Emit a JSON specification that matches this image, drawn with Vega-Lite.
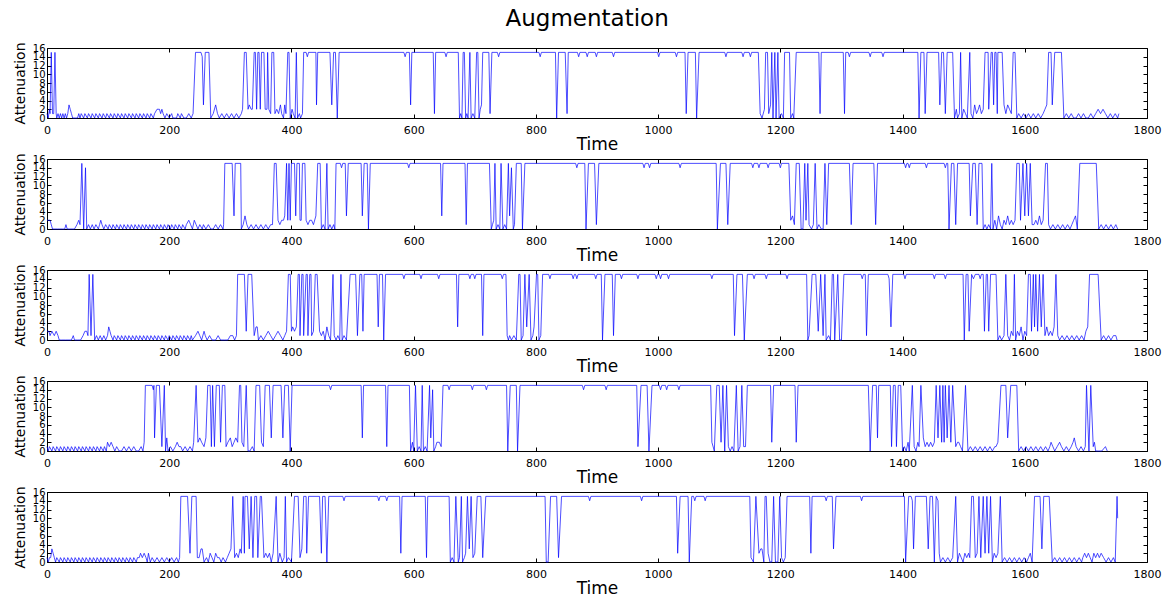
{
"$schema":"https://vega.github.io/schema/vega-lite/v6.json",
"padding":{"left":12,"top":8,"right":5,"bottom":2},
"title":{"text":"Augmentation","fontSize":23,"font":"DejaVu Sans","fontWeight":"normal","color":"#000","anchor":"middle","offset":10},
"bounds":"flush",
"spacing":41,
"config":{
"font":"DejaVu Sans",
"view":{"stroke":"#000","strokeWidth":1},
"axis":{"grid":false,"domain":false,"labelFont":"DejaVu Sans","labelFontSize":11,"labelColor":"#000","tickColor":"#000","tickSize":-4,"titleFont":"DejaVu Sans","titleFontWeight":"normal","titleColor":"#000","labelOverlap":false,"labelFlush":false,"labelBound":false,"format":"d"},
"axisX":{"labelPadding":10,"titleFontSize":17,"titlePadding":1},
"axisY":{"labelPadding":6,"labelFontSize":10,"titleFontSize":14,"titlePadding":5}
},
"datasets":{
"d1":[{"t":0,"v":1},{"t":2,"v":0},{"t":4,"v":2},{"t":5,"v":1},{"t":7,"v":15},{"t":9,"v":1},{"t":11,"v":1},{"t":13,"v":15},{"t":15,"v":1},{"t":16,"v":0},{"t":18,"v":1},{"t":20,"v":0},{"t":22,"v":1},{"t":24,"v":0},{"t":26,"v":1},{"t":28,"v":0},{"t":30,"v":1},{"t":32,"v":0},{"t":34,"v":1},{"t":36,"v":3},{"t":38,"v":2},{"t":40,"v":1},{"t":42,"v":0},{"t":46,"v":0},{"t":50,"v":0},{"t":52,"v":1},{"t":54,"v":0},{"t":56,"v":1},{"t":60,"v":0},{"t":62,"v":1},{"t":66,"v":0},{"t":68,"v":1},{"t":72,"v":0},{"t":74,"v":1},{"t":78,"v":0},{"t":80,"v":1},{"t":84,"v":0},{"t":86,"v":1},{"t":90,"v":0},{"t":92,"v":1},{"t":96,"v":0},{"t":98,"v":1},{"t":102,"v":0},{"t":104,"v":1},{"t":108,"v":0},{"t":110,"v":1},{"t":114,"v":0},{"t":116,"v":1},{"t":120,"v":0},{"t":122,"v":1},{"t":126,"v":0},{"t":128,"v":1},{"t":132,"v":0},{"t":134,"v":1},{"t":138,"v":0},{"t":140,"v":1},{"t":144,"v":0},{"t":146,"v":1},{"t":150,"v":0},{"t":152,"v":1},{"t":156,"v":0},{"t":158,"v":1},{"t":162,"v":0},{"t":164,"v":1},{"t":168,"v":0},{"t":170,"v":1},{"t":174,"v":0},{"t":176,"v":1},{"t":180,"v":2},{"t":184,"v":2},{"t":186,"v":1},{"t":188,"v":2},{"t":190,"v":1},{"t":193,"v":0},{"t":196,"v":1},{"t":200,"v":0},{"t":204,"v":1},{"t":206,"v":0},{"t":212,"v":0},{"t":214,"v":1},{"t":218,"v":0},{"t":220,"v":1},{"t":224,"v":0},{"t":228,"v":0},{"t":232,"v":1},{"t":236,"v":0},{"t":239,"v":1},{"t":243,"v":15},{"t":252,"v":15},{"t":254,"v":14},{"t":256,"v":3},{"t":259,"v":15},{"t":265,"v":15},{"t":268,"v":0},{"t":272,"v":1},{"t":276,"v":3},{"t":279,"v":1},{"t":282,"v":0},{"t":286,"v":1},{"t":290,"v":0},{"t":294,"v":1},{"t":298,"v":0},{"t":302,"v":1},{"t":306,"v":0},{"t":310,"v":1},{"t":314,"v":0},{"t":318,"v":1},{"t":320,"v":2},{"t":323,"v":15},{"t":326,"v":15},{"t":329,"v":2},{"t":331,"v":3},{"t":334,"v":2},{"t":336,"v":2},{"t":339,"v":15},{"t":341,"v":15},{"t":343,"v":2},{"t":345,"v":15},{"t":347,"v":15},{"t":349,"v":2},{"t":351,"v":15},{"t":355,"v":15},{"t":357,"v":2},{"t":360,"v":2},{"t":361,"v":15},{"t":363,"v":2},{"t":366,"v":1},{"t":368,"v":15},{"t":371,"v":15},{"t":373,"v":1},{"t":376,"v":2},{"t":379,"v":1},{"t":382,"v":3},{"t":384,"v":1},{"t":387,"v":0},{"t":389,"v":3},{"t":391,"v":1},{"t":394,"v":15},{"t":396,"v":15},{"t":398,"v":0},{"t":401,"v":2},{"t":403,"v":1},{"t":406,"v":0},{"t":408,"v":15},{"t":410,"v":0},{"t":413,"v":1},{"t":415,"v":0},{"t":418,"v":1},{"t":420,"v":15},{"t":424,"v":15},{"t":426,"v":14},{"t":428,"v":15},{"t":440,"v":15},{"t":441,"v":3},{"t":443,"v":15},{"t":463,"v":15},{"t":466,"v":3},{"t":469,"v":15},{"t":472,"v":15},{"t":475,"v":0},{"t":478,"v":15},{"t":584,"v":15},{"t":586,"v":14},{"t":588,"v":15},{"t":593,"v":15},{"t":595,"v":3},{"t":597,"v":15},{"t":632,"v":15},{"t":634,"v":1},{"t":636,"v":15},{"t":651,"v":15},{"t":653,"v":14},{"t":655,"v":15},{"t":673,"v":15},{"t":675,"v":0},{"t":677,"v":1},{"t":679,"v":0},{"t":681,"v":15},{"t":683,"v":15},{"t":685,"v":0},{"t":687,"v":1},{"t":689,"v":0},{"t":692,"v":15},{"t":694,"v":0},{"t":697,"v":1},{"t":700,"v":0},{"t":703,"v":15},{"t":705,"v":15},{"t":707,"v":0},{"t":709,"v":2},{"t":711,"v":3},{"t":713,"v":15},{"t":723,"v":15},{"t":725,"v":1},{"t":728,"v":15},{"t":737,"v":15},{"t":739,"v":14},{"t":741,"v":15},{"t":805,"v":15},{"t":807,"v":14},{"t":809,"v":15},{"t":832,"v":15},{"t":834,"v":0},{"t":837,"v":15},{"t":848,"v":15},{"t":851,"v":1},{"t":853,"v":15},{"t":868,"v":15},{"t":870,"v":14},{"t":872,"v":15},{"t":882,"v":15},{"t":884,"v":14},{"t":886,"v":15},{"t":897,"v":15},{"t":899,"v":14},{"t":901,"v":15},{"t":925,"v":15},{"t":927,"v":14},{"t":929,"v":15},{"t":999,"v":15},{"t":1001,"v":14},{"t":1003,"v":15},{"t":1028,"v":15},{"t":1030,"v":14},{"t":1032,"v":15},{"t":1044,"v":15},{"t":1046,"v":1},{"t":1049,"v":15},{"t":1061,"v":15},{"t":1063,"v":0},{"t":1067,"v":15},{"t":1109,"v":15},{"t":1111,"v":14},{"t":1113,"v":15},{"t":1137,"v":15},{"t":1139,"v":14},{"t":1141,"v":15},{"t":1149,"v":15},{"t":1151,"v":14},{"t":1153,"v":15},{"t":1164,"v":15},{"t":1167,"v":1},{"t":1170,"v":0},{"t":1174,"v":2},{"t":1176,"v":15},{"t":1179,"v":15},{"t":1181,"v":1},{"t":1184,"v":3},{"t":1186,"v":15},{"t":1188,"v":0},{"t":1191,"v":15},{"t":1193,"v":0},{"t":1196,"v":15},{"t":1198,"v":0},{"t":1202,"v":1},{"t":1205,"v":0},{"t":1207,"v":15},{"t":1215,"v":15},{"t":1217,"v":0},{"t":1220,"v":1},{"t":1222,"v":0},{"t":1226,"v":15},{"t":1263,"v":15},{"t":1265,"v":1},{"t":1267,"v":15},{"t":1303,"v":15},{"t":1305,"v":1},{"t":1307,"v":15},{"t":1311,"v":15},{"t":1313,"v":14},{"t":1315,"v":15},{"t":1345,"v":15},{"t":1347,"v":14},{"t":1349,"v":15},{"t":1366,"v":15},{"t":1368,"v":14},{"t":1370,"v":15},{"t":1425,"v":15},{"t":1427,"v":0},{"t":1430,"v":15},{"t":1435,"v":15},{"t":1437,"v":1},{"t":1440,"v":15},{"t":1459,"v":15},{"t":1461,"v":3},{"t":1464,"v":15},{"t":1467,"v":15},{"t":1470,"v":1},{"t":1473,"v":15},{"t":1482,"v":15},{"t":1485,"v":0},{"t":1488,"v":2},{"t":1490,"v":0},{"t":1493,"v":1},{"t":1495,"v":15},{"t":1497,"v":0},{"t":1500,"v":2},{"t":1503,"v":1},{"t":1506,"v":0},{"t":1510,"v":15},{"t":1512,"v":1},{"t":1515,"v":0},{"t":1518,"v":3},{"t":1521,"v":1},{"t":1524,"v":2},{"t":1526,"v":3},{"t":1529,"v":1},{"t":1532,"v":2},{"t":1535,"v":15},{"t":1540,"v":15},{"t":1541,"v":2},{"t":1545,"v":15},{"t":1547,"v":15},{"t":1549,"v":3},{"t":1551,"v":15},{"t":1553,"v":15},{"t":1555,"v":1},{"t":1556,"v":15},{"t":1563,"v":15},{"t":1566,"v":3},{"t":1569,"v":1},{"t":1572,"v":3},{"t":1575,"v":2},{"t":1578,"v":1},{"t":1581,"v":15},{"t":1584,"v":15},{"t":1587,"v":0},{"t":1590,"v":1},{"t":1594,"v":0},{"t":1598,"v":1},{"t":1602,"v":0},{"t":1606,"v":1},{"t":1610,"v":0},{"t":1614,"v":1},{"t":1618,"v":0},{"t":1622,"v":1},{"t":1626,"v":0},{"t":1630,"v":1},{"t":1633,"v":2},{"t":1636,"v":3},{"t":1639,"v":15},{"t":1643,"v":15},{"t":1645,"v":3},{"t":1649,"v":15},{"t":1660,"v":15},{"t":1664,"v":0},{"t":1668,"v":1},{"t":1672,"v":0},{"t":1676,"v":1},{"t":1680,"v":0},{"t":1684,"v":0},{"t":1688,"v":1},{"t":1692,"v":0},{"t":1696,"v":1},{"t":1700,"v":0},{"t":1704,"v":0},{"t":1708,"v":1},{"t":1712,"v":0},{"t":1716,"v":1},{"t":1720,"v":2},{"t":1724,"v":1},{"t":1728,"v":2},{"t":1732,"v":1},{"t":1736,"v":0},{"t":1740,"v":1},{"t":1744,"v":0},{"t":1748,"v":1},{"t":1752,"v":0},{"t":1754,"v":1}],
"d2":[{"t":0,"v":2},{"t":5,"v":2},{"t":7,"v":1},{"t":9,"v":0},{"t":13,"v":0},{"t":17,"v":0},{"t":21,"v":0},{"t":25,"v":0},{"t":29,"v":0},{"t":31,"v":1},{"t":33,"v":0},{"t":37,"v":0},{"t":41,"v":0},{"t":45,"v":0},{"t":49,"v":1},{"t":52,"v":2},{"t":54,"v":1},{"t":57,"v":15},{"t":60,"v":0},{"t":63,"v":14},{"t":65,"v":0},{"t":68,"v":1},{"t":71,"v":0},{"t":74,"v":1},{"t":77,"v":0},{"t":80,"v":1},{"t":84,"v":0},{"t":86,"v":1},{"t":88,"v":2},{"t":90,"v":1},{"t":93,"v":0},{"t":96,"v":1},{"t":100,"v":0},{"t":102,"v":1},{"t":106,"v":0},{"t":108,"v":1},{"t":112,"v":0},{"t":114,"v":1},{"t":118,"v":0},{"t":120,"v":1},{"t":124,"v":0},{"t":126,"v":1},{"t":130,"v":0},{"t":132,"v":1},{"t":136,"v":0},{"t":138,"v":1},{"t":142,"v":0},{"t":144,"v":1},{"t":148,"v":0},{"t":150,"v":1},{"t":154,"v":0},{"t":156,"v":1},{"t":160,"v":0},{"t":162,"v":1},{"t":166,"v":0},{"t":168,"v":1},{"t":172,"v":0},{"t":174,"v":1},{"t":178,"v":0},{"t":180,"v":1},{"t":184,"v":0},{"t":186,"v":1},{"t":190,"v":0},{"t":192,"v":1},{"t":196,"v":0},{"t":198,"v":1},{"t":202,"v":0},{"t":204,"v":1},{"t":208,"v":0},{"t":210,"v":1},{"t":214,"v":0},{"t":216,"v":1},{"t":220,"v":0},{"t":222,"v":1},{"t":226,"v":0},{"t":228,"v":1},{"t":232,"v":2},{"t":235,"v":1},{"t":238,"v":0},{"t":241,"v":2},{"t":244,"v":1},{"t":247,"v":0},{"t":250,"v":1},{"t":254,"v":0},{"t":256,"v":1},{"t":260,"v":0},{"t":264,"v":1},{"t":268,"v":0},{"t":272,"v":0},{"t":276,"v":1},{"t":280,"v":0},{"t":284,"v":1},{"t":288,"v":0},{"t":289,"v":1},{"t":291,"v":15},{"t":303,"v":15},{"t":306,"v":3},{"t":308,"v":15},{"t":317,"v":15},{"t":318,"v":0},{"t":321,"v":1},{"t":324,"v":3},{"t":327,"v":1},{"t":330,"v":0},{"t":334,"v":1},{"t":338,"v":0},{"t":342,"v":1},{"t":346,"v":0},{"t":350,"v":1},{"t":354,"v":0},{"t":358,"v":1},{"t":362,"v":0},{"t":366,"v":1},{"t":369,"v":1},{"t":372,"v":15},{"t":375,"v":15},{"t":378,"v":2},{"t":381,"v":1},{"t":384,"v":2},{"t":387,"v":2},{"t":389,"v":3},{"t":392,"v":15},{"t":394,"v":2},{"t":396,"v":15},{"t":398,"v":2},{"t":400,"v":15},{"t":405,"v":15},{"t":407,"v":3},{"t":409,"v":15},{"t":413,"v":15},{"t":414,"v":2},{"t":416,"v":2},{"t":418,"v":15},{"t":422,"v":15},{"t":424,"v":2},{"t":427,"v":1},{"t":430,"v":2},{"t":433,"v":2},{"t":436,"v":1},{"t":440,"v":3},{"t":443,"v":15},{"t":447,"v":15},{"t":449,"v":0},{"t":452,"v":1},{"t":455,"v":0},{"t":458,"v":15},{"t":460,"v":0},{"t":463,"v":1},{"t":466,"v":0},{"t":469,"v":1},{"t":471,"v":0},{"t":473,"v":15},{"t":480,"v":15},{"t":482,"v":14},{"t":484,"v":15},{"t":488,"v":15},{"t":490,"v":3},{"t":493,"v":15},{"t":514,"v":15},{"t":516,"v":3},{"t":519,"v":15},{"t":524,"v":15},{"t":526,"v":0},{"t":529,"v":15},{"t":590,"v":15},{"t":592,"v":14},{"t":594,"v":15},{"t":644,"v":15},{"t":646,"v":3},{"t":648,"v":15},{"t":684,"v":15},{"t":686,"v":1},{"t":688,"v":15},{"t":724,"v":15},{"t":727,"v":0},{"t":729,"v":1},{"t":731,"v":2},{"t":733,"v":15},{"t":735,"v":0},{"t":738,"v":1},{"t":741,"v":0},{"t":743,"v":15},{"t":746,"v":0},{"t":749,"v":1},{"t":752,"v":0},{"t":755,"v":15},{"t":757,"v":3},{"t":760,"v":14},{"t":763,"v":0},{"t":765,"v":1},{"t":768,"v":15},{"t":776,"v":15},{"t":778,"v":0},{"t":782,"v":15},{"t":865,"v":15},{"t":867,"v":14},{"t":869,"v":15},{"t":880,"v":15},{"t":882,"v":0},{"t":886,"v":15},{"t":896,"v":15},{"t":899,"v":1},{"t":903,"v":15},{"t":975,"v":15},{"t":977,"v":14},{"t":979,"v":15},{"t":984,"v":15},{"t":986,"v":14},{"t":988,"v":15},{"t":1034,"v":15},{"t":1036,"v":14},{"t":1038,"v":15},{"t":1095,"v":15},{"t":1097,"v":0},{"t":1102,"v":15},{"t":1111,"v":15},{"t":1114,"v":1},{"t":1118,"v":15},{"t":1153,"v":15},{"t":1155,"v":14},{"t":1157,"v":15},{"t":1163,"v":15},{"t":1165,"v":14},{"t":1167,"v":15},{"t":1178,"v":15},{"t":1180,"v":14},{"t":1182,"v":15},{"t":1198,"v":15},{"t":1200,"v":14},{"t":1202,"v":15},{"t":1214,"v":15},{"t":1217,"v":2},{"t":1220,"v":3},{"t":1223,"v":1},{"t":1226,"v":15},{"t":1231,"v":15},{"t":1234,"v":0},{"t":1237,"v":0},{"t":1240,"v":15},{"t":1242,"v":2},{"t":1245,"v":15},{"t":1247,"v":1},{"t":1251,"v":0},{"t":1254,"v":1},{"t":1257,"v":15},{"t":1260,"v":0},{"t":1263,"v":1},{"t":1267,"v":0},{"t":1270,"v":0},{"t":1273,"v":15},{"t":1276,"v":1},{"t":1279,"v":15},{"t":1313,"v":15},{"t":1316,"v":1},{"t":1319,"v":15},{"t":1353,"v":15},{"t":1356,"v":1},{"t":1359,"v":15},{"t":1403,"v":15},{"t":1405,"v":14},{"t":1407,"v":15},{"t":1409,"v":15},{"t":1411,"v":14},{"t":1413,"v":15},{"t":1437,"v":15},{"t":1439,"v":14},{"t":1441,"v":15},{"t":1468,"v":15},{"t":1470,"v":14},{"t":1472,"v":15},{"t":1474,"v":15},{"t":1476,"v":0},{"t":1480,"v":15},{"t":1484,"v":15},{"t":1487,"v":1},{"t":1490,"v":15},{"t":1509,"v":15},{"t":1511,"v":3},{"t":1515,"v":15},{"t":1519,"v":15},{"t":1522,"v":1},{"t":1525,"v":15},{"t":1530,"v":15},{"t":1532,"v":0},{"t":1535,"v":1},{"t":1538,"v":0},{"t":1541,"v":1},{"t":1544,"v":0},{"t":1546,"v":15},{"t":1548,"v":0},{"t":1551,"v":2},{"t":1554,"v":0},{"t":1557,"v":3},{"t":1560,"v":1},{"t":1563,"v":0},{"t":1566,"v":2},{"t":1569,"v":1},{"t":1572,"v":3},{"t":1575,"v":1},{"t":1578,"v":2},{"t":1581,"v":1},{"t":1584,"v":2},{"t":1587,"v":15},{"t":1591,"v":15},{"t":1593,"v":2},{"t":1597,"v":15},{"t":1600,"v":3},{"t":1603,"v":15},{"t":1606,"v":3},{"t":1609,"v":15},{"t":1612,"v":1},{"t":1615,"v":1},{"t":1618,"v":2},{"t":1621,"v":1},{"t":1624,"v":3},{"t":1627,"v":1},{"t":1630,"v":2},{"t":1634,"v":15},{"t":1637,"v":15},{"t":1639,"v":1},{"t":1642,"v":0},{"t":1646,"v":1},{"t":1650,"v":0},{"t":1654,"v":1},{"t":1658,"v":0},{"t":1662,"v":1},{"t":1666,"v":0},{"t":1670,"v":1},{"t":1674,"v":0},{"t":1677,"v":1},{"t":1680,"v":2},{"t":1683,"v":3},{"t":1686,"v":0},{"t":1690,"v":15},{"t":1717,"v":15},{"t":1721,"v":0},{"t":1725,"v":1},{"t":1729,"v":0},{"t":1733,"v":1},{"t":1737,"v":0},{"t":1741,"v":1},{"t":1745,"v":0},{"t":1749,"v":1},{"t":1752,"v":0}],
"d3":[{"t":0,"v":2},{"t":3,"v":2},{"t":5,"v":1},{"t":8,"v":2},{"t":12,"v":1},{"t":15,"v":2},{"t":18,"v":1},{"t":20,"v":0},{"t":24,"v":0},{"t":30,"v":0},{"t":36,"v":0},{"t":40,"v":0},{"t":43,"v":1},{"t":45,"v":0},{"t":50,"v":0},{"t":55,"v":0},{"t":59,"v":1},{"t":62,"v":2},{"t":65,"v":2},{"t":67,"v":1},{"t":69,"v":15},{"t":72,"v":1},{"t":75,"v":15},{"t":78,"v":0},{"t":81,"v":1},{"t":84,"v":0},{"t":87,"v":1},{"t":90,"v":0},{"t":93,"v":1},{"t":96,"v":0},{"t":99,"v":1},{"t":101,"v":3},{"t":103,"v":2},{"t":105,"v":1},{"t":108,"v":0},{"t":110,"v":1},{"t":114,"v":0},{"t":116,"v":1},{"t":120,"v":0},{"t":122,"v":1},{"t":126,"v":0},{"t":128,"v":1},{"t":132,"v":0},{"t":134,"v":1},{"t":138,"v":0},{"t":140,"v":1},{"t":144,"v":0},{"t":146,"v":1},{"t":150,"v":0},{"t":152,"v":1},{"t":156,"v":0},{"t":158,"v":1},{"t":162,"v":0},{"t":164,"v":1},{"t":168,"v":0},{"t":170,"v":1},{"t":174,"v":0},{"t":176,"v":1},{"t":180,"v":0},{"t":182,"v":1},{"t":186,"v":0},{"t":188,"v":1},{"t":192,"v":0},{"t":194,"v":1},{"t":198,"v":0},{"t":200,"v":1},{"t":204,"v":0},{"t":206,"v":1},{"t":210,"v":0},{"t":212,"v":1},{"t":216,"v":0},{"t":218,"v":1},{"t":222,"v":0},{"t":224,"v":1},{"t":228,"v":0},{"t":230,"v":1},{"t":234,"v":0},{"t":236,"v":1},{"t":238,"v":0},{"t":243,"v":1},{"t":247,"v":2},{"t":250,"v":1},{"t":253,"v":0},{"t":257,"v":2},{"t":259,"v":1},{"t":262,"v":0},{"t":266,"v":1},{"t":270,"v":0},{"t":276,"v":0},{"t":280,"v":1},{"t":284,"v":0},{"t":290,"v":0},{"t":296,"v":0},{"t":300,"v":1},{"t":304,"v":1},{"t":307,"v":0},{"t":310,"v":1},{"t":312,"v":15},{"t":323,"v":15},{"t":326,"v":2},{"t":329,"v":15},{"t":335,"v":15},{"t":339,"v":1},{"t":342,"v":3},{"t":344,"v":3},{"t":346,"v":0},{"t":350,"v":1},{"t":354,"v":0},{"t":358,"v":1},{"t":362,"v":2},{"t":366,"v":1},{"t":370,"v":0},{"t":374,"v":1},{"t":378,"v":2},{"t":382,"v":1},{"t":386,"v":0},{"t":389,"v":1},{"t":392,"v":2},{"t":395,"v":15},{"t":398,"v":15},{"t":400,"v":2},{"t":402,"v":3},{"t":405,"v":2},{"t":408,"v":3},{"t":411,"v":15},{"t":413,"v":15},{"t":414,"v":1},{"t":417,"v":15},{"t":419,"v":15},{"t":420,"v":1},{"t":424,"v":15},{"t":426,"v":15},{"t":427,"v":1},{"t":430,"v":15},{"t":432,"v":15},{"t":433,"v":1},{"t":436,"v":2},{"t":439,"v":15},{"t":442,"v":15},{"t":446,"v":2},{"t":449,"v":1},{"t":452,"v":2},{"t":455,"v":0},{"t":458,"v":3},{"t":461,"v":1},{"t":464,"v":0},{"t":468,"v":15},{"t":470,"v":1},{"t":473,"v":0},{"t":476,"v":1},{"t":479,"v":0},{"t":481,"v":15},{"t":483,"v":0},{"t":486,"v":1},{"t":490,"v":0},{"t":496,"v":15},{"t":505,"v":15},{"t":508,"v":1},{"t":512,"v":15},{"t":515,"v":15},{"t":517,"v":2},{"t":519,"v":15},{"t":540,"v":15},{"t":542,"v":3},{"t":544,"v":15},{"t":549,"v":15},{"t":551,"v":0},{"t":554,"v":15},{"t":582,"v":15},{"t":584,"v":14},{"t":586,"v":15},{"t":610,"v":15},{"t":612,"v":14},{"t":614,"v":15},{"t":639,"v":15},{"t":641,"v":14},{"t":643,"v":15},{"t":670,"v":15},{"t":672,"v":3},{"t":674,"v":15},{"t":690,"v":15},{"t":692,"v":14},{"t":694,"v":15},{"t":698,"v":15},{"t":700,"v":14},{"t":702,"v":15},{"t":711,"v":15},{"t":713,"v":1},{"t":715,"v":15},{"t":743,"v":15},{"t":745,"v":14},{"t":747,"v":15},{"t":751,"v":15},{"t":753,"v":1},{"t":755,"v":0},{"t":757,"v":1},{"t":760,"v":0},{"t":764,"v":1},{"t":768,"v":0},{"t":772,"v":15},{"t":774,"v":15},{"t":776,"v":0},{"t":779,"v":1},{"t":782,"v":15},{"t":785,"v":3},{"t":789,"v":15},{"t":792,"v":0},{"t":795,"v":1},{"t":797,"v":3},{"t":801,"v":15},{"t":803,"v":15},{"t":805,"v":0},{"t":808,"v":1},{"t":811,"v":15},{"t":821,"v":15},{"t":823,"v":14},{"t":825,"v":15},{"t":859,"v":15},{"t":861,"v":14},{"t":863,"v":15},{"t":865,"v":15},{"t":867,"v":14},{"t":869,"v":15},{"t":896,"v":15},{"t":898,"v":14},{"t":900,"v":15},{"t":907,"v":15},{"t":909,"v":0},{"t":913,"v":15},{"t":925,"v":15},{"t":927,"v":1},{"t":930,"v":15},{"t":938,"v":15},{"t":940,"v":14},{"t":942,"v":15},{"t":965,"v":15},{"t":967,"v":14},{"t":969,"v":15},{"t":995,"v":15},{"t":997,"v":14},{"t":999,"v":15},{"t":1002,"v":15},{"t":1004,"v":14},{"t":1006,"v":15},{"t":1015,"v":15},{"t":1017,"v":14},{"t":1019,"v":15},{"t":1086,"v":15},{"t":1088,"v":14},{"t":1090,"v":15},{"t":1123,"v":15},{"t":1125,"v":1},{"t":1129,"v":15},{"t":1138,"v":15},{"t":1141,"v":0},{"t":1146,"v":15},{"t":1155,"v":15},{"t":1157,"v":14},{"t":1159,"v":15},{"t":1175,"v":15},{"t":1177,"v":14},{"t":1179,"v":15},{"t":1209,"v":15},{"t":1211,"v":14},{"t":1213,"v":15},{"t":1243,"v":15},{"t":1245,"v":0},{"t":1247,"v":1},{"t":1252,"v":15},{"t":1258,"v":15},{"t":1262,"v":2},{"t":1266,"v":15},{"t":1270,"v":1},{"t":1273,"v":15},{"t":1275,"v":0},{"t":1279,"v":1},{"t":1282,"v":0},{"t":1285,"v":15},{"t":1287,"v":15},{"t":1289,"v":0},{"t":1294,"v":15},{"t":1297,"v":0},{"t":1300,"v":0},{"t":1304,"v":15},{"t":1332,"v":15},{"t":1334,"v":14},{"t":1336,"v":15},{"t":1339,"v":15},{"t":1341,"v":1},{"t":1344,"v":15},{"t":1376,"v":15},{"t":1378,"v":14},{"t":1381,"v":3},{"t":1384,"v":15},{"t":1402,"v":15},{"t":1404,"v":14},{"t":1406,"v":15},{"t":1450,"v":15},{"t":1452,"v":14},{"t":1454,"v":15},{"t":1468,"v":15},{"t":1470,"v":14},{"t":1472,"v":15},{"t":1499,"v":15},{"t":1501,"v":0},{"t":1504,"v":15},{"t":1507,"v":15},{"t":1509,"v":2},{"t":1513,"v":15},{"t":1516,"v":14},{"t":1519,"v":15},{"t":1525,"v":15},{"t":1527,"v":14},{"t":1529,"v":15},{"t":1532,"v":15},{"t":1534,"v":2},{"t":1537,"v":15},{"t":1539,"v":15},{"t":1541,"v":2},{"t":1544,"v":15},{"t":1553,"v":15},{"t":1556,"v":0},{"t":1559,"v":1},{"t":1562,"v":0},{"t":1566,"v":1},{"t":1569,"v":15},{"t":1572,"v":1},{"t":1575,"v":0},{"t":1578,"v":2},{"t":1581,"v":1},{"t":1583,"v":15},{"t":1585,"v":0},{"t":1588,"v":2},{"t":1591,"v":1},{"t":1594,"v":3},{"t":1597,"v":0},{"t":1600,"v":2},{"t":1603,"v":1},{"t":1606,"v":15},{"t":1609,"v":15},{"t":1611,"v":2},{"t":1614,"v":15},{"t":1616,"v":3},{"t":1618,"v":15},{"t":1621,"v":2},{"t":1624,"v":15},{"t":1627,"v":3},{"t":1630,"v":15},{"t":1633,"v":1},{"t":1636,"v":3},{"t":1639,"v":1},{"t":1642,"v":2},{"t":1645,"v":1},{"t":1648,"v":3},{"t":1651,"v":15},{"t":1654,"v":1},{"t":1657,"v":0},{"t":1661,"v":1},{"t":1665,"v":0},{"t":1669,"v":1},{"t":1673,"v":0},{"t":1677,"v":1},{"t":1681,"v":0},{"t":1685,"v":1},{"t":1689,"v":0},{"t":1693,"v":1},{"t":1697,"v":0},{"t":1700,"v":2},{"t":1703,"v":3},{"t":1706,"v":15},{"t":1720,"v":15},{"t":1725,"v":0},{"t":1729,"v":1},{"t":1733,"v":0},{"t":1737,"v":1},{"t":1741,"v":0},{"t":1745,"v":1},{"t":1749,"v":1},{"t":1751,"v":0}],
"d4":[{"t":0,"v":1},{"t":2,"v":0},{"t":4,"v":1},{"t":8,"v":0},{"t":10,"v":1},{"t":14,"v":0},{"t":16,"v":1},{"t":20,"v":0},{"t":22,"v":1},{"t":26,"v":0},{"t":28,"v":1},{"t":32,"v":0},{"t":34,"v":1},{"t":38,"v":0},{"t":40,"v":1},{"t":44,"v":0},{"t":46,"v":1},{"t":50,"v":0},{"t":52,"v":1},{"t":56,"v":0},{"t":58,"v":1},{"t":62,"v":0},{"t":64,"v":1},{"t":68,"v":0},{"t":70,"v":1},{"t":74,"v":0},{"t":76,"v":1},{"t":80,"v":0},{"t":82,"v":1},{"t":86,"v":0},{"t":88,"v":1},{"t":92,"v":0},{"t":94,"v":1},{"t":97,"v":0},{"t":99,"v":2},{"t":102,"v":1},{"t":105,"v":2},{"t":108,"v":1},{"t":111,"v":0},{"t":114,"v":1},{"t":118,"v":0},{"t":122,"v":0},{"t":126,"v":1},{"t":130,"v":0},{"t":134,"v":1},{"t":138,"v":0},{"t":142,"v":1},{"t":146,"v":0},{"t":150,"v":0},{"t":154,"v":1},{"t":157,"v":0},{"t":159,"v":2},{"t":161,"v":15},{"t":172,"v":15},{"t":174,"v":14},{"t":175,"v":15},{"t":176,"v":3},{"t":179,"v":15},{"t":184,"v":15},{"t":188,"v":1},{"t":192,"v":15},{"t":194,"v":0},{"t":196,"v":3},{"t":198,"v":0},{"t":202,"v":1},{"t":206,"v":0},{"t":210,"v":1},{"t":213,"v":2},{"t":216,"v":1},{"t":219,"v":1},{"t":222,"v":0},{"t":226,"v":1},{"t":230,"v":0},{"t":234,"v":1},{"t":238,"v":0},{"t":240,"v":2},{"t":244,"v":15},{"t":247,"v":2},{"t":250,"v":3},{"t":253,"v":2},{"t":257,"v":1},{"t":260,"v":3},{"t":263,"v":15},{"t":267,"v":15},{"t":269,"v":1},{"t":271,"v":15},{"t":274,"v":1},{"t":277,"v":15},{"t":282,"v":15},{"t":284,"v":2},{"t":287,"v":15},{"t":291,"v":15},{"t":293,"v":1},{"t":296,"v":2},{"t":300,"v":3},{"t":303,"v":1},{"t":306,"v":2},{"t":309,"v":3},{"t":312,"v":2},{"t":315,"v":15},{"t":317,"v":15},{"t":319,"v":2},{"t":322,"v":1},{"t":326,"v":15},{"t":329,"v":0},{"t":332,"v":0},{"t":336,"v":1},{"t":339,"v":0},{"t":342,"v":15},{"t":348,"v":15},{"t":351,"v":2},{"t":354,"v":1},{"t":357,"v":15},{"t":364,"v":15},{"t":367,"v":3},{"t":370,"v":15},{"t":383,"v":15},{"t":386,"v":3},{"t":389,"v":15},{"t":395,"v":15},{"t":398,"v":0},{"t":401,"v":15},{"t":462,"v":15},{"t":464,"v":14},{"t":466,"v":15},{"t":514,"v":15},{"t":516,"v":3},{"t":518,"v":15},{"t":554,"v":15},{"t":556,"v":1},{"t":558,"v":15},{"t":593,"v":15},{"t":595,"v":0},{"t":598,"v":2},{"t":600,"v":0},{"t":603,"v":15},{"t":606,"v":0},{"t":609,"v":1},{"t":612,"v":0},{"t":614,"v":15},{"t":616,"v":0},{"t":619,"v":1},{"t":622,"v":0},{"t":626,"v":15},{"t":628,"v":3},{"t":631,"v":14},{"t":633,"v":0},{"t":636,"v":1},{"t":638,"v":2},{"t":642,"v":2},{"t":645,"v":1},{"t":648,"v":15},{"t":656,"v":15},{"t":658,"v":14},{"t":660,"v":15},{"t":694,"v":15},{"t":696,"v":14},{"t":698,"v":15},{"t":717,"v":15},{"t":719,"v":14},{"t":721,"v":15},{"t":752,"v":15},{"t":754,"v":0},{"t":758,"v":15},{"t":768,"v":15},{"t":770,"v":0},{"t":774,"v":15},{"t":876,"v":15},{"t":878,"v":14},{"t":880,"v":15},{"t":913,"v":15},{"t":915,"v":14},{"t":917,"v":15},{"t":965,"v":15},{"t":967,"v":1},{"t":972,"v":15},{"t":982,"v":15},{"t":985,"v":0},{"t":990,"v":15},{"t":1002,"v":15},{"t":1004,"v":14},{"t":1006,"v":15},{"t":1012,"v":15},{"t":1014,"v":14},{"t":1016,"v":15},{"t":1032,"v":15},{"t":1034,"v":14},{"t":1036,"v":15},{"t":1086,"v":15},{"t":1088,"v":2},{"t":1092,"v":0},{"t":1096,"v":15},{"t":1100,"v":15},{"t":1103,"v":2},{"t":1106,"v":15},{"t":1109,"v":0},{"t":1112,"v":15},{"t":1115,"v":1},{"t":1118,"v":0},{"t":1121,"v":1},{"t":1124,"v":0},{"t":1128,"v":15},{"t":1131,"v":0},{"t":1134,"v":1},{"t":1137,"v":15},{"t":1140,"v":1},{"t":1143,"v":1},{"t":1146,"v":15},{"t":1184,"v":15},{"t":1186,"v":2},{"t":1189,"v":15},{"t":1224,"v":15},{"t":1226,"v":2},{"t":1229,"v":15},{"t":1344,"v":15},{"t":1347,"v":0},{"t":1351,"v":15},{"t":1357,"v":15},{"t":1359,"v":3},{"t":1361,"v":15},{"t":1380,"v":15},{"t":1382,"v":1},{"t":1385,"v":15},{"t":1388,"v":15},{"t":1390,"v":1},{"t":1393,"v":15},{"t":1397,"v":15},{"t":1400,"v":0},{"t":1403,"v":1},{"t":1406,"v":0},{"t":1409,"v":2},{"t":1411,"v":0},{"t":1416,"v":15},{"t":1419,"v":1},{"t":1422,"v":0},{"t":1425,"v":2},{"t":1427,"v":1},{"t":1430,"v":15},{"t":1434,"v":3},{"t":1437,"v":1},{"t":1440,"v":2},{"t":1443,"v":1},{"t":1446,"v":2},{"t":1449,"v":1},{"t":1452,"v":2},{"t":1455,"v":15},{"t":1458,"v":3},{"t":1461,"v":15},{"t":1464,"v":2},{"t":1466,"v":15},{"t":1468,"v":2},{"t":1470,"v":15},{"t":1473,"v":3},{"t":1476,"v":15},{"t":1479,"v":2},{"t":1482,"v":15},{"t":1487,"v":1},{"t":1490,"v":2},{"t":1492,"v":2},{"t":1495,"v":1},{"t":1498,"v":0},{"t":1503,"v":15},{"t":1507,"v":0},{"t":1511,"v":1},{"t":1515,"v":0},{"t":1519,"v":1},{"t":1523,"v":0},{"t":1527,"v":1},{"t":1531,"v":0},{"t":1535,"v":1},{"t":1539,"v":0},{"t":1543,"v":1},{"t":1547,"v":0},{"t":1551,"v":1},{"t":1553,"v":1},{"t":1556,"v":2},{"t":1561,"v":15},{"t":1569,"v":15},{"t":1572,"v":3},{"t":1577,"v":15},{"t":1587,"v":15},{"t":1590,"v":0},{"t":1594,"v":1},{"t":1598,"v":0},{"t":1602,"v":1},{"t":1606,"v":0},{"t":1610,"v":1},{"t":1614,"v":0},{"t":1618,"v":1},{"t":1622,"v":0},{"t":1626,"v":1},{"t":1630,"v":0},{"t":1634,"v":1},{"t":1638,"v":0},{"t":1641,"v":1},{"t":1643,"v":2},{"t":1646,"v":1},{"t":1649,"v":0},{"t":1653,"v":1},{"t":1657,"v":2},{"t":1660,"v":1},{"t":1664,"v":0},{"t":1668,"v":1},{"t":1672,"v":0},{"t":1676,"v":1},{"t":1679,"v":2},{"t":1681,"v":3},{"t":1684,"v":1},{"t":1688,"v":0},{"t":1692,"v":1},{"t":1696,"v":0},{"t":1699,"v":1},{"t":1701,"v":15},{"t":1705,"v":0},{"t":1708,"v":15},{"t":1712,"v":1},{"t":1714,"v":2},{"t":1716,"v":0},{"t":1720,"v":0},{"t":1726,"v":0},{"t":1732,"v":1},{"t":1735,"v":0}],
"d5":[{"t":0,"v":1},{"t":2,"v":0},{"t":4,"v":1},{"t":6,"v":1},{"t":8,"v":3},{"t":10,"v":2},{"t":12,"v":1},{"t":14,"v":0},{"t":16,"v":1},{"t":20,"v":0},{"t":22,"v":1},{"t":26,"v":0},{"t":28,"v":1},{"t":32,"v":0},{"t":34,"v":1},{"t":38,"v":0},{"t":40,"v":1},{"t":44,"v":0},{"t":46,"v":1},{"t":50,"v":0},{"t":52,"v":1},{"t":56,"v":0},{"t":58,"v":1},{"t":62,"v":0},{"t":64,"v":1},{"t":68,"v":0},{"t":70,"v":1},{"t":74,"v":0},{"t":76,"v":1},{"t":80,"v":0},{"t":82,"v":1},{"t":86,"v":0},{"t":88,"v":1},{"t":92,"v":0},{"t":94,"v":1},{"t":98,"v":0},{"t":100,"v":1},{"t":104,"v":0},{"t":106,"v":1},{"t":110,"v":0},{"t":112,"v":1},{"t":116,"v":0},{"t":118,"v":1},{"t":122,"v":0},{"t":124,"v":1},{"t":128,"v":0},{"t":130,"v":1},{"t":134,"v":0},{"t":136,"v":1},{"t":140,"v":0},{"t":142,"v":1},{"t":146,"v":0},{"t":148,"v":1},{"t":151,"v":1},{"t":153,"v":2},{"t":156,"v":1},{"t":159,"v":2},{"t":162,"v":1},{"t":164,"v":0},{"t":166,"v":2},{"t":169,"v":0},{"t":172,"v":1},{"t":176,"v":0},{"t":180,"v":1},{"t":184,"v":0},{"t":188,"v":1},{"t":192,"v":0},{"t":196,"v":1},{"t":200,"v":0},{"t":204,"v":1},{"t":208,"v":0},{"t":212,"v":1},{"t":215,"v":0},{"t":217,"v":1},{"t":219,"v":15},{"t":230,"v":15},{"t":234,"v":2},{"t":237,"v":15},{"t":244,"v":15},{"t":246,"v":1},{"t":249,"v":1},{"t":252,"v":3},{"t":254,"v":3},{"t":257,"v":0},{"t":261,"v":1},{"t":264,"v":0},{"t":267,"v":2},{"t":270,"v":1},{"t":273,"v":0},{"t":276,"v":2},{"t":279,"v":1},{"t":282,"v":1},{"t":285,"v":0},{"t":288,"v":1},{"t":292,"v":0},{"t":295,"v":1},{"t":298,"v":2},{"t":301,"v":3},{"t":304,"v":15},{"t":307,"v":1},{"t":310,"v":2},{"t":313,"v":1},{"t":316,"v":3},{"t":318,"v":2},{"t":321,"v":15},{"t":323,"v":2},{"t":324,"v":15},{"t":328,"v":15},{"t":331,"v":3},{"t":334,"v":15},{"t":337,"v":1},{"t":340,"v":15},{"t":343,"v":15},{"t":345,"v":1},{"t":349,"v":15},{"t":351,"v":15},{"t":355,"v":1},{"t":358,"v":2},{"t":361,"v":1},{"t":364,"v":2},{"t":367,"v":0},{"t":370,"v":2},{"t":375,"v":15},{"t":378,"v":0},{"t":381,"v":2},{"t":385,"v":0},{"t":388,"v":1},{"t":390,"v":15},{"t":392,"v":0},{"t":395,"v":1},{"t":400,"v":0},{"t":405,"v":15},{"t":411,"v":15},{"t":414,"v":1},{"t":417,"v":3},{"t":420,"v":15},{"t":424,"v":15},{"t":425,"v":2},{"t":428,"v":15},{"t":446,"v":15},{"t":449,"v":2},{"t":451,"v":15},{"t":455,"v":15},{"t":458,"v":0},{"t":461,"v":15},{"t":484,"v":15},{"t":486,"v":14},{"t":488,"v":15},{"t":541,"v":15},{"t":543,"v":14},{"t":545,"v":15},{"t":554,"v":15},{"t":556,"v":14},{"t":558,"v":15},{"t":577,"v":15},{"t":579,"v":2},{"t":581,"v":15},{"t":619,"v":15},{"t":621,"v":1},{"t":623,"v":15},{"t":658,"v":15},{"t":660,"v":0},{"t":663,"v":1},{"t":666,"v":0},{"t":669,"v":15},{"t":673,"v":0},{"t":675,"v":1},{"t":678,"v":15},{"t":680,"v":0},{"t":683,"v":1},{"t":685,"v":2},{"t":688,"v":15},{"t":691,"v":3},{"t":694,"v":15},{"t":697,"v":1},{"t":700,"v":2},{"t":704,"v":15},{"t":710,"v":15},{"t":713,"v":1},{"t":718,"v":15},{"t":815,"v":15},{"t":817,"v":0},{"t":820,"v":0},{"t":824,"v":15},{"t":834,"v":15},{"t":837,"v":1},{"t":842,"v":15},{"t":886,"v":15},{"t":888,"v":14},{"t":890,"v":15},{"t":971,"v":15},{"t":973,"v":14},{"t":975,"v":15},{"t":1030,"v":15},{"t":1032,"v":2},{"t":1036,"v":15},{"t":1049,"v":15},{"t":1051,"v":0},{"t":1055,"v":15},{"t":1058,"v":15},{"t":1060,"v":14},{"t":1062,"v":15},{"t":1075,"v":15},{"t":1077,"v":14},{"t":1079,"v":15},{"t":1150,"v":15},{"t":1152,"v":1},{"t":1156,"v":0},{"t":1160,"v":15},{"t":1165,"v":2},{"t":1168,"v":3},{"t":1170,"v":3},{"t":1173,"v":0},{"t":1175,"v":15},{"t":1177,"v":15},{"t":1180,"v":2},{"t":1183,"v":0},{"t":1186,"v":0},{"t":1189,"v":15},{"t":1192,"v":0},{"t":1196,"v":0},{"t":1199,"v":15},{"t":1202,"v":1},{"t":1205,"v":0},{"t":1208,"v":1},{"t":1211,"v":15},{"t":1248,"v":15},{"t":1250,"v":2},{"t":1252,"v":15},{"t":1273,"v":15},{"t":1275,"v":14},{"t":1277,"v":15},{"t":1285,"v":15},{"t":1287,"v":3},{"t":1291,"v":15},{"t":1331,"v":15},{"t":1333,"v":14},{"t":1335,"v":15},{"t":1403,"v":15},{"t":1405,"v":0},{"t":1410,"v":15},{"t":1414,"v":15},{"t":1416,"v":14},{"t":1418,"v":3},{"t":1421,"v":15},{"t":1439,"v":15},{"t":1442,"v":3},{"t":1445,"v":15},{"t":1449,"v":15},{"t":1452,"v":0},{"t":1455,"v":15},{"t":1458,"v":14},{"t":1460,"v":2},{"t":1462,"v":0},{"t":1466,"v":1},{"t":1470,"v":0},{"t":1474,"v":1},{"t":1478,"v":0},{"t":1482,"v":1},{"t":1487,"v":15},{"t":1490,"v":0},{"t":1493,"v":2},{"t":1496,"v":1},{"t":1499,"v":0},{"t":1502,"v":2},{"t":1505,"v":1},{"t":1508,"v":2},{"t":1510,"v":1},{"t":1513,"v":15},{"t":1516,"v":15},{"t":1519,"v":1},{"t":1522,"v":2},{"t":1525,"v":15},{"t":1528,"v":1},{"t":1532,"v":15},{"t":1535,"v":2},{"t":1538,"v":15},{"t":1541,"v":2},{"t":1544,"v":15},{"t":1547,"v":0},{"t":1550,"v":2},{"t":1553,"v":1},{"t":1556,"v":2},{"t":1560,"v":15},{"t":1563,"v":0},{"t":1567,"v":1},{"t":1571,"v":0},{"t":1575,"v":1},{"t":1579,"v":0},{"t":1583,"v":1},{"t":1587,"v":0},{"t":1591,"v":1},{"t":1595,"v":0},{"t":1599,"v":1},{"t":1603,"v":0},{"t":1606,"v":1},{"t":1609,"v":2},{"t":1612,"v":0},{"t":1616,"v":15},{"t":1625,"v":15},{"t":1628,"v":3},{"t":1631,"v":15},{"t":1640,"v":15},{"t":1645,"v":0},{"t":1649,"v":1},{"t":1653,"v":0},{"t":1657,"v":1},{"t":1661,"v":0},{"t":1665,"v":1},{"t":1669,"v":0},{"t":1673,"v":1},{"t":1677,"v":0},{"t":1681,"v":1},{"t":1685,"v":0},{"t":1689,"v":1},{"t":1693,"v":0},{"t":1695,"v":1},{"t":1698,"v":2},{"t":1701,"v":1},{"t":1704,"v":2},{"t":1707,"v":1},{"t":1710,"v":0},{"t":1713,"v":2},{"t":1716,"v":1},{"t":1719,"v":2},{"t":1722,"v":1},{"t":1725,"v":2},{"t":1729,"v":1},{"t":1733,"v":0},{"t":1737,"v":1},{"t":1741,"v":0},{"t":1745,"v":1},{"t":1748,"v":0},{"t":1751,"v":15},{"t":1752,"v":10}]
},
"vconcat":[
{"width":1100,"height":70,"data":{"name":"d1"},"resolve":{"axis":{"x":"independent","y":"independent"}},"layer":[
{"mark":{"type":"line","color":"#0000ff","strokeWidth":0.7},"encoding":{"x":{"field":"t","type":"quantitative","scale":{"domain":[0,1800],"nice":false,"zero":false},"axis":{"title":"Time","values":[0,200,400,600,800,1000,1200,1400,1600,1800]}},"y":{"field":"v","type":"quantitative","scale":{"domain":[0,16],"nice":false},"axis":{"title":"Attenuation","values":[0,2,4,6,8,10,12,14,16]}}}},
{"mark":{"type":"point","opacity":0},"encoding":{"x":{"field":"t","type":"quantitative","axis":{"orient":"top","title":null,"labels":false,"values":[0,200,400,600,800,1000,1200,1400,1600,1800]}},"y":{"field":"v","type":"quantitative","axis":{"orient":"right","title":null,"labels":false,"values":[0,2,4,6,8,10,12,14,16]}}}}]},
{"width":1100,"height":70,"data":{"name":"d2"},"resolve":{"axis":{"x":"independent","y":"independent"}},"layer":[
{"mark":{"type":"line","color":"#0000ff","strokeWidth":0.7},"encoding":{"x":{"field":"t","type":"quantitative","scale":{"domain":[0,1800],"nice":false,"zero":false},"axis":{"title":"Time","values":[0,200,400,600,800,1000,1200,1400,1600,1800]}},"y":{"field":"v","type":"quantitative","scale":{"domain":[0,16],"nice":false},"axis":{"title":"Attenuation","values":[0,2,4,6,8,10,12,14,16]}}}},
{"mark":{"type":"point","opacity":0},"encoding":{"x":{"field":"t","type":"quantitative","axis":{"orient":"top","title":null,"labels":false,"values":[0,200,400,600,800,1000,1200,1400,1600,1800]}},"y":{"field":"v","type":"quantitative","axis":{"orient":"right","title":null,"labels":false,"values":[0,2,4,6,8,10,12,14,16]}}}}]},
{"width":1100,"height":70,"data":{"name":"d3"},"resolve":{"axis":{"x":"independent","y":"independent"}},"layer":[
{"mark":{"type":"line","color":"#0000ff","strokeWidth":0.7},"encoding":{"x":{"field":"t","type":"quantitative","scale":{"domain":[0,1800],"nice":false,"zero":false},"axis":{"title":"Time","values":[0,200,400,600,800,1000,1200,1400,1600,1800]}},"y":{"field":"v","type":"quantitative","scale":{"domain":[0,16],"nice":false},"axis":{"title":"Attenuation","values":[0,2,4,6,8,10,12,14,16]}}}},
{"mark":{"type":"point","opacity":0},"encoding":{"x":{"field":"t","type":"quantitative","axis":{"orient":"top","title":null,"labels":false,"values":[0,200,400,600,800,1000,1200,1400,1600,1800]}},"y":{"field":"v","type":"quantitative","axis":{"orient":"right","title":null,"labels":false,"values":[0,2,4,6,8,10,12,14,16]}}}}]},
{"width":1100,"height":70,"data":{"name":"d4"},"resolve":{"axis":{"x":"independent","y":"independent"}},"layer":[
{"mark":{"type":"line","color":"#0000ff","strokeWidth":0.7},"encoding":{"x":{"field":"t","type":"quantitative","scale":{"domain":[0,1800],"nice":false,"zero":false},"axis":{"title":"Time","values":[0,200,400,600,800,1000,1200,1400,1600,1800]}},"y":{"field":"v","type":"quantitative","scale":{"domain":[0,16],"nice":false},"axis":{"title":"Attenuation","values":[0,2,4,6,8,10,12,14,16]}}}},
{"mark":{"type":"point","opacity":0},"encoding":{"x":{"field":"t","type":"quantitative","axis":{"orient":"top","title":null,"labels":false,"values":[0,200,400,600,800,1000,1200,1400,1600,1800]}},"y":{"field":"v","type":"quantitative","axis":{"orient":"right","title":null,"labels":false,"values":[0,2,4,6,8,10,12,14,16]}}}}]},
{"width":1100,"height":70,"data":{"name":"d5"},"resolve":{"axis":{"x":"independent","y":"independent"}},"layer":[
{"mark":{"type":"line","color":"#0000ff","strokeWidth":0.7},"encoding":{"x":{"field":"t","type":"quantitative","scale":{"domain":[0,1800],"nice":false,"zero":false},"axis":{"title":"Time","values":[0,200,400,600,800,1000,1200,1400,1600,1800]}},"y":{"field":"v","type":"quantitative","scale":{"domain":[0,16],"nice":false},"axis":{"title":"Attenuation","values":[0,2,4,6,8,10,12,14,16]}}}},
{"mark":{"type":"point","opacity":0},"encoding":{"x":{"field":"t","type":"quantitative","axis":{"orient":"top","title":null,"labels":false,"values":[0,200,400,600,800,1000,1200,1400,1600,1800]}},"y":{"field":"v","type":"quantitative","axis":{"orient":"right","title":null,"labels":false,"values":[0,2,4,6,8,10,12,14,16]}}}}]}
]
}
